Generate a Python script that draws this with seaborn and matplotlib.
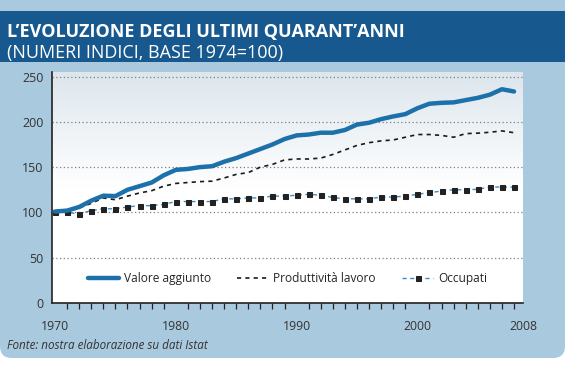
import numpy as np
import pandas as pd
import matplotlib
matplotlib.use("Agg")
import matplotlib.pyplot as plt
import seaborn as sns
from matplotlib.patches import FancyBboxPatch, Rectangle
from matplotlib.ticker import MultipleLocator

# Dati (numeri indici)
anni = list(range(1970, 2009))
valore_aggiunto = [101, 102, 106, 113, 118.5, 118, 125, 129, 133, 141,
                   147, 148, 150, 151, 156, 160, 165, 170, 175, 181,
                   185, 186, 188, 188, 191, 197, 199, 203, 206, 208.5,
                   215, 220, 221, 221.5, 224, 226.5, 230, 236, 233.5]
produttivita = [100, 101, 105, 110, 116, 114, 118, 121.5, 124, 129,
                132, 133, 134, 134.5, 138, 142, 144, 150, 153, 158,
                159, 159, 160, 164, 169, 174, 177, 179, 180, 183,
                186, 186, 185, 183, 187, 187.5, 188.5, 190, 188]
occupati = [100, 100, 98.5, 102, 104, 104, 106, 107.5, 107.5, 109,
            112, 112, 112, 112, 115, 115, 116, 116, 118, 118,
            119, 120, 119, 116.5, 115, 115, 115, 117, 117, 118,
            120, 122, 123.5, 125, 125, 125.5, 128, 128, 128]
etichette_x = ["1970", "1980", "1990", "2000", "2008"]
etichette_y = [0, 50, 100, 150, 200, 250]

df = pd.DataFrame({"anno": anni, "va": valore_aggiunto,
                   "prod": produttivita, "occ": occupati})

sns.set_style("white")
plt.rcParams["font.family"] = ["Open Sans", "DejaVu Sans"]

fig = plt.figure(figsize=(5.74, 3.68), dpi=100)
fig.patch.set_facecolor("white")

# sfondo azzurro e fascia del titolo
fig.patches.append(FancyBboxPatch((0, 0.10), 5.65, 3.8, boxstyle="round,pad=0,rounding_size=0.12",
                                  transform=fig.dpi_scale_trans, facecolor="#a9c9de",
                                  edgecolor="none", zorder=-2))
fig.patches.append(Rectangle((-0.1, 3.06), 5.75, 0.51, transform=fig.dpi_scale_trans,
                             facecolor="#17598e", edgecolor="none", zorder=-1))

fig.text(0.013, 0.900, "L\u2019EVOLUZIONE DEGLI ULTIMI QUARANT\u2019ANNI", color="white",
         fontsize=13, fontweight="bold", va="baseline")
fig.text(0.013, 0.843, "(NUMERI INDICI, BASE 1974=100)", color="white",
         fontsize=13, va="baseline")

ax = fig.add_axes([0.0906, 0.1766, 0.8205, 0.6277])
ax.set_facecolor("white")
grad = np.linspace(0, 1, 100).reshape(-1, 1)
cmap = matplotlib.colors.LinearSegmentedColormap.from_list("bg", ["white", "white", "#dde6ed"])
ax.imshow(grad, extent=[0, 1, 0, 1], transform=ax.transAxes, aspect="auto",
          cmap=cmap, origin="lower", zorder=0)

for y in etichette_y[1:]:
    ax.axhline(y, color="#7f7f7f", lw=0.9, ls=(0, (1, 2)), zorder=1)

sns.lineplot(data=df, x="anno", y="va", ax=ax, color="#1c71ab", lw=3.2,
             label="Valore aggiunto", zorder=4)
sns.lineplot(data=df, x="anno", y="prod", ax=ax, color="#1a1a1a", lw=1.2,
             ls=(0, (2.5, 2.5)), label="Produttività lavoro", zorder=3)
sns.lineplot(data=df, x="anno", y="occ", ax=ax, color="#3b8dc6", lw=1.0,
             ls=(0, (3, 2.5)), marker="s", markersize=3.6, markerfacecolor="#222222",
             markeredgecolor="#222222", label="Occupati", zorder=3)

ax.set_xlim(1969.75, 2008.74)
ax.set_ylim(0, 255)
ax.set_yticks(etichette_y)
ax.set_yticklabels([str(v) for v in etichette_y])
ax.set_xticks([1970, 1980, 1990, 2000, ax.get_xlim()[1]])
ax.set_xticklabels(etichette_x)
ax.xaxis.set_minor_locator(MultipleLocator(1))
ax.tick_params(axis="x", which="major", direction="out", length=5, width=1.3,
               color="#222222", labelsize=8.8, labelcolor="#333333", pad=7)
ax.tick_params(axis="x", which="minor", direction="out", length=4, width=0.9,
               color="#222222", bottom=True)
ax.tick_params(axis="y", length=0, labelsize=9, labelcolor="#333333", pad=6)
ax.set_xlabel("")
ax.set_ylabel("")
for s in ["top", "right"]:
    ax.spines[s].set_visible(False)
for s in ["left", "bottom"]:
    ax.spines[s].set_color("#222222")
    ax.spines[s].set_linewidth(1.2)

ax.legend(loc="center", bbox_to_anchor=(0.5, 0.105), ncol=3, frameon=False,
          fontsize=8.6, handlelength=2.6, columnspacing=2.2, handletextpad=0.4)

fig.text(0.013, 0.052, "Fonte: nostra elaborazione su dati Istat", fontsize=8.4,
         style="italic", color="#333333", va="baseline")

fig.savefig("out.png", dpi=100)
